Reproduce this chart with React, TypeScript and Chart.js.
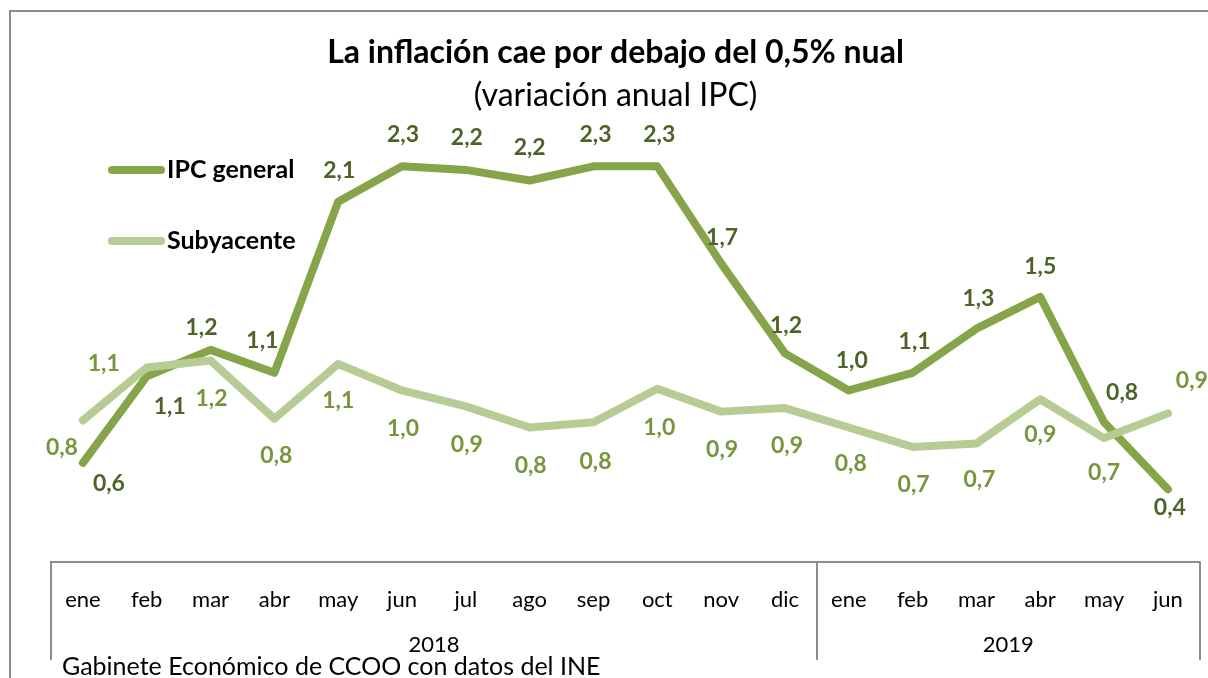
import React, { useEffect, useRef } from 'react';
import { Chart, registerables } from 'chart.js';

Chart.register(...registerables);

const TITLE = 'La inflación cae por debajo del 0,5% nual';
const SUBTITLE = '(variación anual IPC)';
const SOURCE = 'Gabinete Económico de CCOO con datos del INE';

const MONTHS = ['ene', 'feb', 'mar', 'abr', 'may', 'jun', 'jul', 'ago', 'sep', 'oct', 'nov', 'dic', 'ene', 'feb', 'mar', 'abr', 'may', 'jun'];
const YEARS = ['2018', '2019'];
const YEAR_MONTH_COUNTS = [12, 6];
const SERIES_NAMES = ['IPC general', 'Subyacente'];

const IPC_GENERAL = [0.58, 1.07, 1.22, 1.09, 2.06, 2.26, 2.24, 2.18, 2.26, 2.26, 1.71, 1.2, 0.99, 1.09, 1.34, 1.52, 0.81, 0.43];
const SUBYACENTE = [0.82, 1.12, 1.16, 0.83, 1.14, 0.99, 0.9, 0.78, 0.81, 1.0, 0.87, 0.89, 0.78, 0.67, 0.69, 0.94, 0.72, 0.86];

const FONT = 'Lato, "Open Sans", sans-serif';
const IPC_LINE = '#86A44A';
const SUB_LINE = '#B6CC94';
const IPC_LABEL = '#4F6228';
const SUB_LABEL = '#77953D';
const FRAME = '#8c8c8c';

// label placement (dx, dy from the point to the label centre)
const IPC_LABEL_OFFSETS: [number, number][] = [
  [26, 21], [23, 30], [-9, -22], [-12, -32], [1, -31], [1, -32], [1, -32], [0, -33], [2, -32],
  [2, -32], [1, -26], [1, -28], [3, -30], [2, -31], [2, -30], [0, -30], [18, -30], [2, 18],
];
const SUB_LABEL_OFFSETS: [number, number][] = [
  [-21, 27], [-43, -4], [1, 38], [2, 37], [0, 37], [1, 38], [1, 38], [1, 38], [2, 39],
  [2, 39], [1, 38], [2, 37], [2, 36], [1, 38], [3, 36], [0, 35], [0, 34], [24, -33],
];

const fmt = (v: number) => v.toFixed(1).replace('.', ',');

const decorPlugin = {
  id: 'decor',
  beforeDraw(chart: any) {
    const ctx = chart.ctx;
    ctx.save();
    ctx.fillStyle = '#ffffff';
    ctx.fillRect(0, 0, chart.width, chart.height);
    ctx.strokeStyle = FRAME;
    ctx.lineWidth = 2;
    ctx.beginPath();
    ctx.moveTo(10, chart.height);
    ctx.lineTo(10, 11);
    ctx.lineTo(chart.width, 11);
    ctx.stroke();
    ctx.restore();
  },
  afterDatasetsDraw(chart: any) {
    const ctx = chart.ctx;
    ctx.save();
    ctx.font = `bold 23px ${FONT}`;
    ctx.textAlign = 'center';
    ctx.textBaseline = 'middle';
    const sets = [
      { idx: 0, color: IPC_LABEL, offs: IPC_LABEL_OFFSETS },
      { idx: 1, color: SUB_LABEL, offs: SUB_LABEL_OFFSETS },
    ];
    sets.forEach(({ idx, color, offs }) => {
      const meta = chart.getDatasetMeta(idx);
      const data = chart.data.datasets[idx].data as number[];
      ctx.fillStyle = color;
      meta.data.forEach((pt: any, i: number) => {
        const [dx, dy] = offs[i] || [0, -30];
        ctx.fillText(fmt(data[i]), pt.x + dx, pt.y + dy);
      });
    });
    ctx.restore();
  },
  afterDraw(chart: any) {
    const { ctx, chartArea } = chart;
    const x = chart.scales.x;
    ctx.save();
    // category group separators and year labels
    const half = (x.getPixelForValue(1) - x.getPixelForValue(0)) / 2;
    const bounds = [x.getPixelForValue(0) - half];
    let count = 0;
    YEAR_MONTH_COUNTS.forEach((c) => {
      count += c;
      bounds.push(x.getPixelForValue(count - 1) + half);
    });
    ctx.strokeStyle = FRAME;
    ctx.lineWidth = 2;
    bounds.forEach((bx) => {
      ctx.beginPath();
      ctx.moveTo(Math.round(bx), chartArea.bottom);
      ctx.lineTo(Math.round(bx), 660);
      ctx.stroke();
    });
    ctx.fillStyle = '#000';
    ctx.font = `22px ${FONT}`;
    ctx.textAlign = 'center';
    ctx.textBaseline = 'middle';
    YEARS.forEach((y, i) => {
      ctx.fillText(y, (bounds[i] + bounds[i + 1]) / 2, 645);
    });

    // legend
    const legendRows = [170, 241];
    chart.data.datasets.forEach((ds: any, i: number) => {
      const ly = legendRows[i];
      ctx.strokeStyle = ds.borderColor;
      ctx.lineWidth = 8;
      ctx.lineCap = 'round';
      ctx.beginPath();
      ctx.moveTo(112, ly);
      ctx.lineTo(161, ly);
      ctx.stroke();
      ctx.fillStyle = '#000';
      ctx.font = `bold 25px ${FONT}`;
      ctx.textAlign = 'left';
      ctx.textBaseline = 'middle';
      ctx.fillText(ds.label, 167, ly);
    });

    // source
    ctx.fillStyle = '#000';
    ctx.font = `25px ${FONT}`;
    ctx.textAlign = 'left';
    ctx.textBaseline = 'middle';
    ctx.fillText(SOURCE, 62, 667);
    ctx.restore();
  },
};

export default function App() {
  const ref = useRef<HTMLCanvasElement>(null);
  useEffect(() => {
    if (!ref.current) return;
    const chart = new Chart(ref.current, {
      type: 'line',
      data: {
        labels: MONTHS,
        datasets: [
          {
            label: SERIES_NAMES[0],
            data: IPC_GENERAL,
            borderColor: IPC_LINE,
            backgroundColor: IPC_LINE,
            borderWidth: 8,
            pointRadius: 0,
            borderJoinStyle: 'round',
            borderCapStyle: 'round',
            tension: 0,
            order: 2,
          },
          {
            label: SERIES_NAMES[1],
            data: SUBYACENTE,
            borderColor: SUB_LINE,
            backgroundColor: SUB_LINE,
            borderWidth: 8,
            pointRadius: 0,
            borderJoinStyle: 'round',
            borderCapStyle: 'round',
            tension: 0,
            order: 1,
          },
        ],
      },
      options: {
        responsive: false,
        animation: false,
        devicePixelRatio: 1,
        layout: { padding: { left: 30, right: 7, top: 0, bottom: 40 } },
        scales: {
          x: {
            type: 'category',
            offset: true,
            grid: { display: false, drawTicks: false },
            border: { display: true, color: FRAME, width: 2 },
            ticks: {
              font: { family: FONT, size: 22 },
              color: '#000',
              padding: 25,
              maxRotation: 0,
              autoSkip: false,
            },
          },
          y: {
            min: 0.02,
            max: 2.55,
            ticks: { display: false },
            grid: { display: false },
            border: { display: false },
            afterFit: (scale: any) => {
              scale.width = 21;
            },
          },
        },
        plugins: {
          legend: { display: false },
          tooltip: { enabled: false },
          title: {
            display: true,
            text: TITLE,
            color: '#000',
            font: { family: FONT, size: 32, weight: 'bold' },
            padding: { top: 33, bottom: 2 },
          },
          subtitle: {
            display: true,
            text: SUBTITLE,
            color: '#000',
            font: { family: FONT, size: 32, weight: 'normal' },
            padding: { top: 2.6, bottom: 0.8 },
          },
        },
      },
      plugins: [decorPlugin],
    } as any);
    return () => chart.destroy();
  }, []);
  return (
    <div style={{ position: 'fixed', left: 0, top: 0, width: 1208, height: 678, background: '#fff' }}>
      <canvas ref={ref} width={1208} height={678} style={{ display: 'block', width: 1208, height: 678 }} />
    </div>
  );
}
